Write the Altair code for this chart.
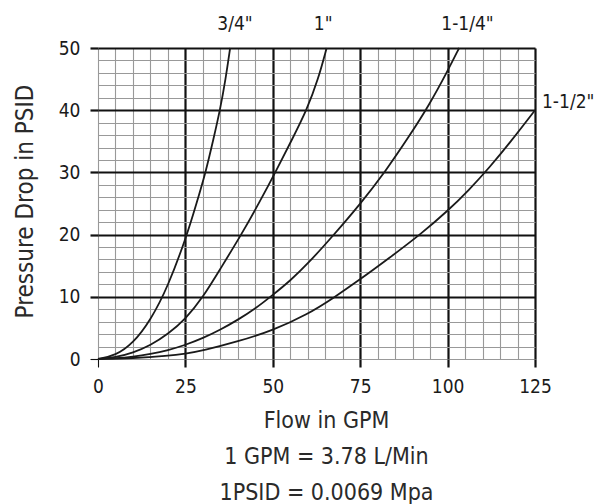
import altair as alt
import pandas as pd

FONT = "DejaVu Sans Condensed, DejaVu Sans, sans-serif"

series_names = ['3/4"', '1"', '1-1/4"', '1-1/2"']

gpm_34 = [0, 5, 10, 15, 20, 25.5, 28, 30.8, 33, 34.9, 36.5, 37.8]
psid_34 = [0, 0.55, 2.5, 6.2, 11.6, 20, 24.7, 30, 35.3, 40, 45, 50]

gpm_1 = [0, 5, 10, 15, 20, 25, 30, 35, 41, 46, 51, 55.5, 59.7, 63, 65.4]
psid_1 = [0, 0.25, 1.0, 2.2, 4.0, 6.4, 9.9, 14.5, 20, 25, 30.3, 35.3, 40, 45, 50]

gpm_114 = [0, 5, 10, 15, 20, 25, 30, 35, 40, 45, 50, 55, 60, 67.2, 75, 82.4, 89, 94.7, 100, 103.3]
psid_114 = [0, 0.1, 0.36, 0.8, 1.4, 2.25, 3.35, 4.7, 6.3, 8.1, 10.3, 12.6, 15.3, 19.8, 24.9, 30.3, 35.8, 40.8, 46.3, 50]

gpm_112 = [0, 10, 20, 25, 30, 40, 50, 60, 67.3, 75, 83, 92.6, 100, 106, 112, 118, 125]
psid_112 = [0, 0.12, 0.5, 0.85, 1.35, 2.8, 4.6, 7.2, 9.8, 12.8, 16.1, 20.2, 23.8, 27.1, 30.8, 34.9, 40]

# label anchors (data units)
top_label_gpm = [39.2, 64.4, 105.7]
top_label_psid = [50, 50, 50]
right_label_gpm = [125]
right_label_psid = [40]

x_ticks = list(range(0, 126, 5))
y_ticks = list(range(0, 51, 2))

rows = []
for name, qs, ps in zip(series_names, [gpm_34, gpm_1, gpm_114, gpm_112],
                        [psid_34, psid_1, psid_114, psid_112]):
    for i, (q, p) in enumerate(zip(qs, ps)):
        rows.append({"series": name, "gpm": q, "psid": p, "order": i})
df = pd.DataFrame(rows)

top_df = pd.DataFrame({"label": series_names[:3], "gpm": top_label_gpm, "psid": top_label_psid})
right_df = pd.DataFrame({"label": series_names[3:], "gpm": right_label_gpm, "psid": right_label_psid})

x_scale = alt.Scale(domain=[0, 125], nice=False, zero=True)
y_scale = alt.Scale(domain=[0, 50], nice=False, zero=True)

x_axis = alt.Axis(
    values=x_ticks,
    grid=True,
    domain=False,
    gridColor={"condition": {"test": "datum.value > 0 && datum.value % 25 == 0", "value": "#111111"}, "value": "#999999"},
    gridWidth={"condition": {"test": "datum.value > 0 && datum.value % 25 == 0", "value": 2.2}, "value": 1.1},
    tickColor="#111111",
    tickOpacity={"condition": {"test": "datum.value % 25 == 0", "value": 1}, "value": 0},
    tickWidth={"condition": {"test": "datum.value > 0", "value": 2.2}, "value": 1.1},
    tickSize=8,
    labelExpr="datum.value % 25 == 0 ? datum.label : ''",
    labelOverlap=False,
    labelFlush=False,
    labelFont=FONT,
    labelFontSize=19,
    labelColor="#1a1a1a",
    labelPadding=10,
    title=["Flow in GPM", "1 GPM = 3.78 L/Min", "1PSID = 0.0069 Mpa"],
    titleFont=FONT,
    titleFontSize=23,
    titleFontWeight="normal",
    titleColor="#2a2a2a",
    titleLineHeight=36,
    titleAlign="center",
    titleBaseline="alphabetic",
    titleAnchor="middle",
    titleX=228,
    titleY=68,
)

y_axis = alt.Axis(
    values=y_ticks,
    grid=True,
    domain=False,
    gridColor={"condition": {"test": "datum.value > 0 && datum.value % 10 == 0", "value": "#111111"}, "value": "#999999"},
    gridWidth={"condition": {"test": "datum.value > 0 && datum.value % 10 == 0", "value": 2.2}, "value": 1.1},
    tickColor="#111111",
    tickOpacity={"condition": {"test": "datum.value % 10 == 0", "value": 1}, "value": 0},
    tickWidth={"condition": {"test": "datum.value > 0", "value": 2.2}, "value": 1.1},
    tickSize=8,
    labelExpr="datum.value % 10 == 0 ? datum.label : ''",
    labelOverlap=False,
    labelFlush=False,
    labelFont=FONT,
    labelFontSize=19,
    labelColor="#1a1a1a",
    labelPadding=10,
    title="Pressure Drop in PSID",
    titleFont=FONT,
    titleFontSize=24,
    titleFontWeight="normal",
    titleColor="#2a2a2a",
    titleAngle=270,
    titleAlign="center",
    titleBaseline="alphabetic",
    titleX=-66,
    titleY=153,
)

X = alt.X("gpm:Q", scale=x_scale, axis=x_axis)
Y = alt.Y("psid:Q", scale=y_scale, axis=y_axis)

lines = alt.Chart(df).mark_line(
    interpolate="basis", color="#1a1a1a", strokeWidth=1.8
).encode(
    x=X,
    y=Y,
    detail="series:N",
    order="order:Q",
)

top_labels = alt.Chart(top_df).mark_text(
    font=FONT, fontSize=19, color="#1a1a1a", align="center", baseline="alphabetic", dy=-18
).encode(
    x=X,
    y=Y,
    text="label:N",
)

right_labels = alt.Chart(right_df).mark_text(
    font=FONT, fontSize=19, color="#1a1a1a", align="left", baseline="alphabetic", dx=7, dy=-2
).encode(
    x=X,
    y=Y,
    text="label:N",
)

chart = alt.layer(lines, top_labels, right_labels).properties(
    width=437,
    height=311,
    autosize=alt.AutoSizeParams(type="none"),
    padding={"left": 90, "top": 40, "right": 59, "bottom": 145},
    background="white",
).configure_view(stroke=None)

chart.save("out.html", embed_options={"renderer": "svg", "actions": False})
